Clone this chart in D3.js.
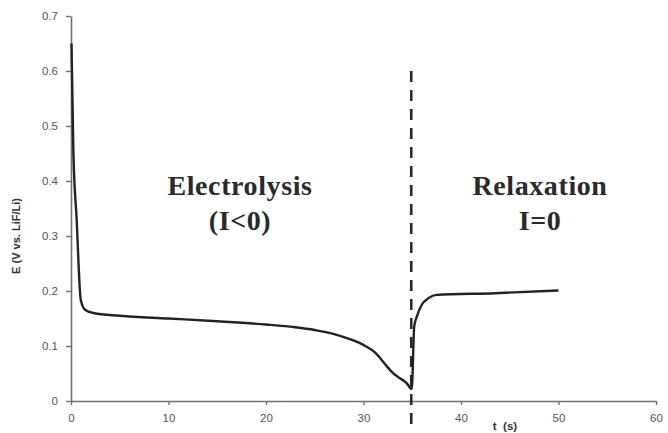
<!DOCTYPE html>
<html>
<head>
<meta charset="utf-8">
<script src="https://cdn.jsdelivr.net/npm/d3@7"></script>
<style>
  body { margin: 0; background: #fff; }
  svg { display: block; }
</style>
</head>
<body>
<div id="chart"></div>
<script>
// time (s) and potential E (V vs. LiF/Li)
var tValues = [0.05, 0.24, 0.58, 1.0, 1.44, 2.3, 5, 10, 15, 20, 23, 25, 26.7, 28.5, 30.1,
               31.2, 31.8, 32.4, 32.9, 33.6, 34.4, 34.95, 35.2, 35.46, 35.98, 36.67, 37.5,
               43.5, 50];
var eValues = [0.65, 0.457, 0.33, 0.184, 0.166, 0.16, 0.155, 0.15, 0.145, 0.139, 0.134, 0.129, 0.123, 0.113, 0.101,
               0.088, 0.076, 0.063, 0.053, 0.043, 0.033, 0.022, 0.135, 0.153, 0.175, 0.187, 0.193,
               0.196, 0.201];

var xTicks = [0, 10, 20, 30, 40, 50, 60];
var yTicks = [0, 0.1, 0.2, 0.3, 0.4, 0.5, 0.6, 0.7];
var switchTime = 35;

var width = 668, height = 433;

var x = d3.scaleLinear().domain([0, 60]).range([71, 656]);
var y = d3.scaleLinear().domain([0, 0.7]).range([401, 16]);

var svg = d3.select("#chart").append("svg")
    .attr("width", width)
    .attr("height", height);

var axisColor = "#707070";
var font = "'Liberation Sans', Arial, sans-serif";

// y axis
var yAxis = svg.append("g")
    .attr("transform", "translate(" + x(0) + ",0)")
    .call(d3.axisLeft(y).tickValues(yTicks).tickSize(5).tickSizeOuter(0).tickPadding(8)
      .tickFormat(function(d) { return d === 0 ? "0" : d3.format(".1f")(d); }));

// x axis
var xAxis = svg.append("g")
    .attr("transform", "translate(0," + y(0) + ")")
    .call(d3.axisBottom(x).tickValues(xTicks).tickSize(4).tickSizeOuter(0).tickPadding(9));

[yAxis, xAxis].forEach(function(g) {
  g.select(".domain").attr("stroke", axisColor).attr("stroke-width", 1.6);
  g.selectAll(".tick line").attr("stroke", axisColor).attr("stroke-width", 1.4);
  g.selectAll(".tick text").attr("fill", "#555").style("font-family", font).style("font-size", "11.5px");
});

// dashed line where the current is switched off
svg.append("line")
    .attr("x1", x(switchTime) - 1).attr("x2", x(switchTime) - 1)
    .attr("y1", y(0.6)).attr("y2", y(-0.055))
    .attr("stroke", "#2a2a2a")
    .attr("stroke-width", 2.6)
    .attr("stroke-dasharray", "11,8");

// potential curve
var pts = tValues.map(function(t, i) { return [t, eValues[i]]; });
var line = d3.line()
    .x(function(d) { return x(d[0]); })
    .y(function(d) { return y(d[1]); })
    .curve(d3.curveMonotoneX);

svg.append("path")
    .datum(pts)
    .attr("d", line)
    .attr("fill", "none")
    .attr("stroke", "#222")
    .attr("stroke-width", 2.4)
    .attr("stroke-linejoin", "round");

// axis titles
svg.append("text")
    .attr("transform", "translate(16,236) rotate(-90)")
    .attr("text-anchor", "middle")
    .attr("dy", "0.35em")
    .style("font-family", font)
    .style("font-size", "11px")
    .style("font-weight", "bold")
    .attr("fill", "#333")
    .text("E (V vs. LiF/Li)");

svg.append("text")
    .attr("x", 505)
    .attr("y", 430)
    .attr("text-anchor", "middle")
    .style("font-family", font)
    .style("font-size", "11.5px")
    .style("font-weight", "bold")
    .style("white-space", "pre")
    .attr("fill", "#333")
    .text("t  (s)");

// region annotations
var serif = "'Liberation Serif', 'Times New Roman', serif";
var labels = [
  {text: "Electrolysis", cx: 240, cy: 195},
  {text: "(I<0)", cx: 240, cy: 230},
  {text: "Relaxation", cx: 540, cy: 195},
  {text: "I=0", cx: 540, cy: 230}
];
svg.selectAll(".region")
    .data(labels)
    .enter().append("text")
    .attr("class", "region")
    .attr("x", function(d) { return d.cx; })
    .attr("y", function(d) { return d.cy; })
    .attr("text-anchor", "middle")
    .style("font-family", serif)
    .style("font-size", "28px")
    .style("font-weight", "bold")
    .style("letter-spacing", "0.6px")
    .attr("fill", "#2a2a2a")
    .text(function(d) { return d.text; });
</script>
</body>
</html>
